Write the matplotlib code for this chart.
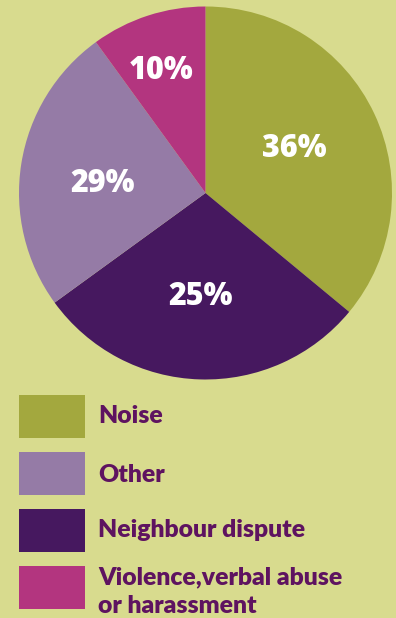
import matplotlib
matplotlib.use("Agg")
import matplotlib.pyplot as plt
import numpy as np

# Data (wedge sizes as drawn in the picture; printed labels as shown)
categories = ["Noise", "Neighbour dispute", "Other", "Violence,verbal abuse\nor harassment"]
values = [36, 29, 25, 10]
pct_labels = ["36%", "25%", "29%", "10%"]
legend_order = ["Noise", "Other", "Neighbour dispute", "Violence,verbal abuse\nor harassment"]

# Style
colors = {"Noise": "#a3a83e", "Neighbour dispute": "#46185f", "Other": "#957ba6",
          "Violence,verbal abuse\nor harassment": "#b3357f"}
bg = "#d8db8e"
text_color = "#5e1360"
label_dist = [0.54, 0.536, 0.558, 0.716]
label_ang_off = [3.3, -0.8, 1.8, 1.5]

W, H = 396, 618
fig = plt.figure(figsize=(W / 100, H / 100), dpi=100)
fig.patch.set_facecolor(bg)
ax = fig.add_axes([0, 0, 1, 1])

cx, cy, r = 205.5, H - 193, 186.5
wedges, _ = ax.pie(values, colors=[colors[c] for c in categories], startangle=90,
                   counterclock=False, center=(cx, cy), radius=r, frame=True,
                   wedgeprops=dict(linewidth=0))
ax.set_xlim(0, W)
ax.set_ylim(0, H)
ax.axis("off")

for w, lab, d, off in zip(wedges, pct_labels, label_dist, label_ang_off):
    ang = np.deg2rad((w.theta1 + w.theta2) / 2 + off)
    ax.text(cx + d * r * np.cos(ang), cy + d * r * np.sin(ang), lab,
            color="white", fontsize=22, fontweight="heavy", family="Open Sans",
            ha="center", va="center_baseline")

# Legend
box_x, box_w, box_h = 19, 66, 43
box_tops = [395, 452, 509, 566]
baselines = [[423], [482], [537], [584, 613]]
for top, cat, bls in zip(box_tops, legend_order, baselines):
    ax.add_patch(plt.Rectangle((box_x, H - top - box_h), box_w, box_h,
                               color=colors[cat], linewidth=0))
    for line, bl in zip(cat.split("\n"), bls):
        ax.text(98, H - bl, line, color=text_color, fontsize=17.8, fontweight="heavy",
                family="Lato", ha="left", va="baseline")

fig.savefig("out.png", dpi=100, facecolor=bg)
